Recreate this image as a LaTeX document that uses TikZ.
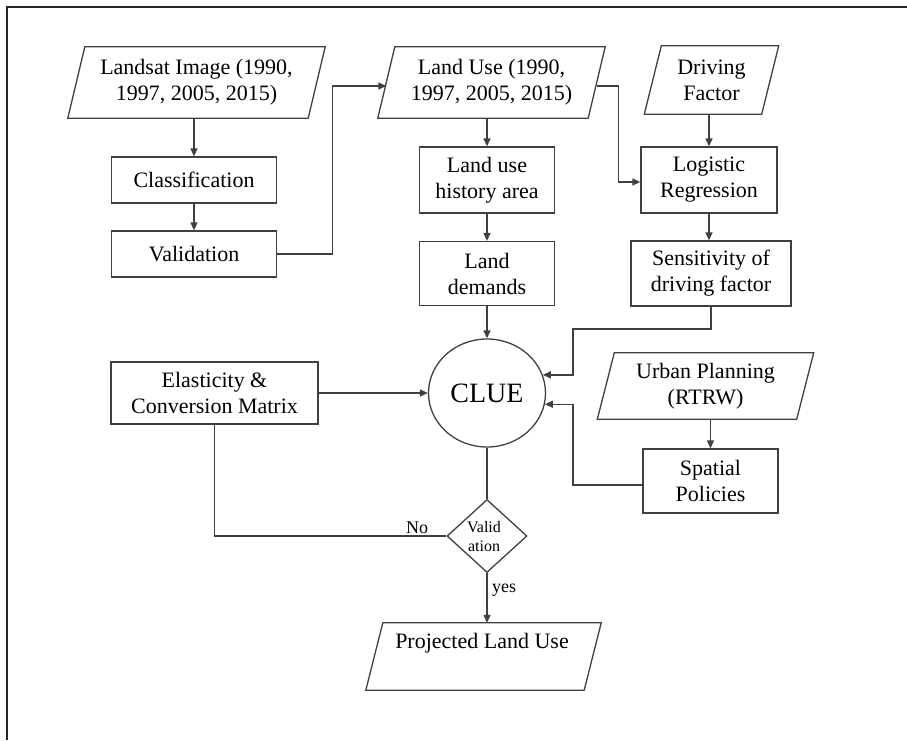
\documentclass[tikz,border=0pt]{standalone}
\usepackage{fontspec}
\setmainfont{Liberation Serif}
\usetikzlibrary{shapes.geometric,arrows.meta,calc}
\newcommand{\paral}[1]{\draw[boxline] ($(#1.north west)+(8.5,0)$) -- ($(#1.north east)+(8.5,0)$) -- ($(#1.south east)+(-8.5,0)$) -- ($(#1.south west)+(-8.5,0)$) -- cycle;}
\begin{document}
\begin{tikzpicture}[x=1pt,y=-1pt,
  boxline/.style={draw=black!75, line width=1.3pt},
  boxtext/.style={align=center, inner sep=0pt, font=\fontsize{22}{26}\selectfont},
  box/.style={boxtext, boxline, rectangle},
  parabox/.style={boxtext, rectangle},
  arr/.style={draw=black!75, line width=1.3pt, -{Triangle[length=8pt,width=7pt]}},
  conn/.style={draw=black!75, line width=1.3pt},
  lab/.style={inner sep=0pt, font=\fontsize{18}{20}\selectfont}
]
\useasboundingbox (0,0) rectangle (907,740);
\draw[line width=2pt, black!85] (7,740) -- (7,7) -- (907,7);

% left column
\node[parabox, minimum width=240pt, minimum height=71pt] (landsat) at (196.5,82.5) {Landsat Image (1990,\\1997, 2005, 2015)};
\paral{landsat}
\node[box, minimum width=165pt, minimum height=46pt] (class) at (194,180) {Classification};
\node[box, minimum width=165pt, minimum height=46pt] (valid1) at (194,254) {Validation};

% middle column
\node[parabox, minimum width=210pt, minimum height=71pt] (landuse) at (491.5,82.5) {Land Use (1990,\\1997, 2005, 2015)};
\paral{landuse}
\node[box, minimum width=135pt, minimum height=66pt] (lhist) at (487,180) {Land use\\history area};
\node[box, minimum width=135pt, minimum height=64pt] (ldem) at (487,273.5) {Land\\demands};
\node[ellipse, boxline, minimum width=117pt, minimum height=108pt, inner sep=0pt, font=\fontsize{28}{32}\selectfont] (clue) at (487,393) {CLUE};
\node[diamond, boxline, minimum width=80pt, minimum height=73pt, inner sep=0pt] (diam) at (487,536) {};
\node[align=center, inner sep=0pt, font=\fontsize{16}{19}\selectfont] (diamtext) at (484,537) {Valid\\ation};
\node[parabox, minimum width=218pt, minimum height=67pt] (proj) at (483.5,656.5) {};
\paral{proj}
\node[boxtext] (projtext) at (482,643) {Projected Land Use};

% right column
\node[parabox, minimum width=117pt, minimum height=68pt] (drive) at (711.5,80) {Driving\\Factor};
\paral{drive}
\node[box, minimum width=136pt, minimum height=66pt] (logit) at (709,180) {Logistic\\Regression};
\node[box, minimum width=160pt, minimum height=65pt] (sens) at (711,273.5) {Sensitivity of\\driving factor};
\node[parabox, minimum width=199pt, minimum height=66pt] (urban) at (705.5,386) {Urban Planning\\(RTRW)};
\paral{urban}
\node[box, minimum width=135pt, minimum height=64pt] (spatial) at (710.5,481) {Spatial\\Policies};

% left lower
\node[box, minimum width=207pt, minimum height=62pt] (elast) at (214.5,393) {Elasticity \&\\Conversion Matrix};

% labels
\node[lab] (nolab) at (417,528) {No};
\node[lab] (yeslab) at (504,590) {yes};

% junctions
\coordinate (j1) at (573,329);
\coordinate (j2) at (573,440);

% connectors
\draw[arr] (landsat.south -| class.north) -- (class.north);
\draw[arr] (class.south) -- (valid1.north);
\draw[arr] (valid1.east) -- ++(55,0) |- ([yshift=-3.5pt]landuse.west);
\draw[arr] (landuse.south -| lhist.north) -- (lhist.north);
\draw[arr] (lhist.south) -- (ldem.north);
\draw[arr] (ldem.south) -- (clue.north);
\draw[arr] ([yshift=-3.5pt]landuse.east) -- ++(21.5,0) |- ([yshift=-2pt]logit.west);
\draw[arr] (drive.south -| logit.north) -- (logit.north);
\draw[arr] (logit.south) -- (logit.south |- sens.north);
\draw[arr] (sens.south) |- (j1) |- (clue.18);
\draw[arr] ([yshift=-4pt]spatial.west) -| (j2) |- (clue.-11);
\draw[arr] (urban.south -| spatial.north) -- (spatial.north);
\draw[arr] (elast.east) -- (clue.west);
\draw[conn] (elast.south) |- (diam.west);
\draw[conn] (clue.south) -- (diam.north);
\draw[arr] (diam.south) -- (diam.south |- proj.north);
\end{tikzpicture}
\end{document}
